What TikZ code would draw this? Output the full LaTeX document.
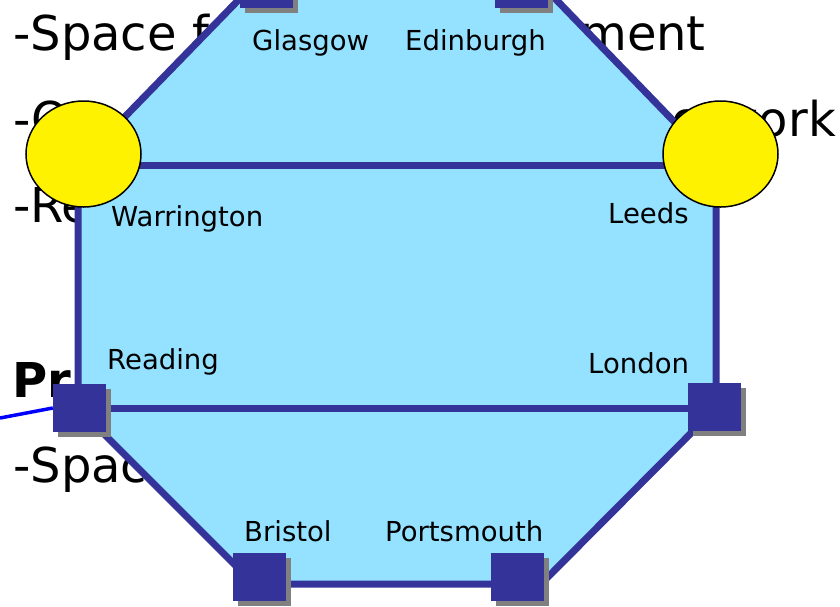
\documentclass[tikz,border=0pt]{standalone}
\usepackage{fontspec}
\setmainfont{DejaVu Sans}
\usetikzlibrary{shapes.geometric,shadows}
\definecolor{ndblue}{RGB}{51,51,153}
\definecolor{octfill}{RGB}{148,226,255}
\definecolor{shadowgray}{RGB}{128,128,128}
\begin{document}
\begin{tikzpicture}[x=1pt,y=-1pt,
  edge/.style={draw=ndblue, line width=7pt},
  city/.style={font=\fontsize{27.5}{30}\selectfont, anchor=base west, inner sep=0pt},
  bigtext/.style={font=\fontsize{48}{52}\selectfont, inner sep=0pt},
  sitebox/.style={fill=ndblue, draw=none, minimum width=53pt, minimum height=48pt, inner sep=0pt,
    drop shadow={shadow xshift=5pt, shadow yshift=-5pt, fill=shadowgray, opacity=1}},
  hub/.style={ellipse, draw=black, line width=1.5pt, fill=yellow, minimum width=115pt, minimum height=106pt, inner sep=0pt},
  feedline/.style={draw=blue, line width=3.5pt}]
\useasboundingbox (0,0) rectangle (840,606);
% background text
\node[bigtext, anchor=base west] (t1) at (13,50) {-Space fo};
\node[bigtext, anchor=base east] (t1b) at (706,50) {ment};
\node[bigtext, anchor=base west] (t2) at (13,136) {-O};
\node[bigtext, anchor=base east] (t2b) at (836,136) {network};
\node[bigtext, anchor=base west] (t3) at (13,222) {-Re};
\node[bigtext, anchor=base west, font=\fontsize{48}{52}\selectfont\bfseries] (t4) at (12,397) {Pri};
\node[bigtext, anchor=base west] (t5) at (13,482) {-Spac};
% octagon vertices
\coordinate (vtl) at (254,-16);
\coordinate (vtr) at (541,-16);
\coordinate (vru) at (716,165);
\coordinate (vrl) at (716,408);
\coordinate (vbr) at (541,584);
\coordinate (vbl) at (254,584);
\coordinate (vll) at (78,408);
\coordinate (vlu) at (78,165);
\path[fill=octfill, edge] (vtl) -- (vtr) -- (vru) -- (vrl) -- (vbr) -- (vbl) -- (vll) -- (vlu) -- cycle;
\draw[edge] (vlu) -- (vru);
\draw[edge] (vll) -- (vrl);
% feed line
\coordinate (feed) at (0,418);
% sites
\node[sitebox] (glasgowsq) at (266.5,-16) {};
\node[sitebox] (edinburghsq) at (521.5,-16) {};
\node[sitebox] (readingsq) at (79.5,408) {};
\node[sitebox] (londonsq) at (714,407) {};
\node[sitebox] (bristolsq) at (259,577) {};
\node[sitebox] (portsmouthsq) at (517.5,577) {};
\draw[feedline] (feed) -- (readingsq.west);
% hubs
\node[hub] (warringtonhub) at (83.5,154) {};
\node[hub] (leedshub) at (720.5,154) {};
% labels
\node[city] (glasgow) at (252,50) {Glasgow};
\node[city] (edinburgh) at (405,50) {Edinburgh};
\node[city] (warrington) at (111,226) {Warrington};
\node[city] (leeds) at (608,223) {Leeds};
\node[city] (reading) at (107,369) {Reading};
\node[city] (london) at (588,373) {London};
\node[city] (bristol) at (244,541) {Bristol};
\node[city] (portsmouth) at (385,541) {Portsmouth};
\end{tikzpicture}
\end{document}
